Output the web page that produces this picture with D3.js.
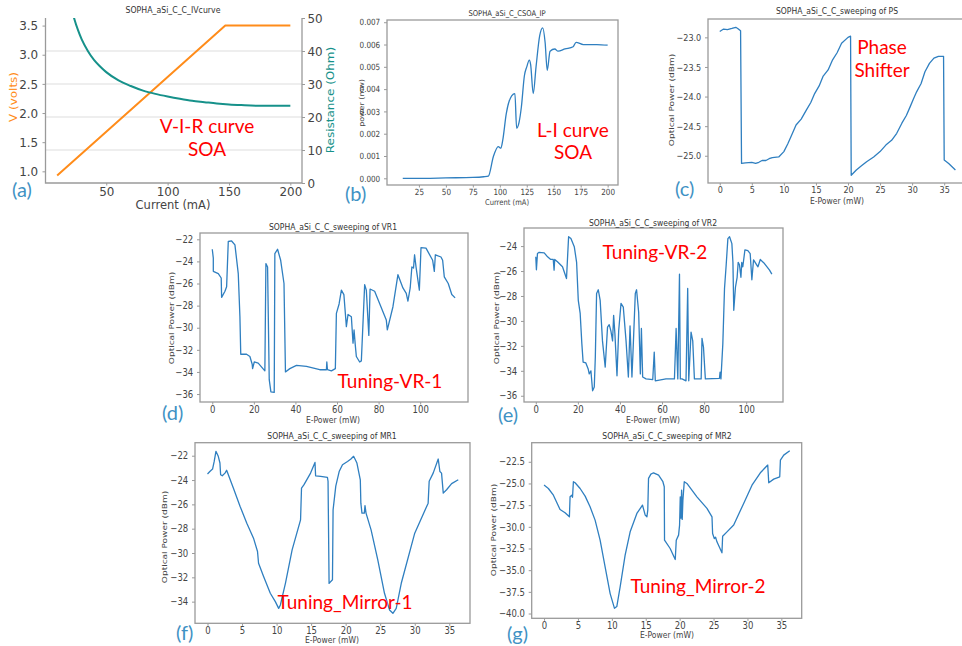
<!DOCTYPE html>
<html>
<head>
<meta charset="utf-8">
<script src="https://cdn.jsdelivr.net/npm/d3@7"></script>
<style>
body { margin: 0; background: #fff; }
svg { display: block; font-family: "DejaVu Sans", sans-serif; }
.note { font-family: Lato, "Open Sans", sans-serif; fill: #ff0000; }
.tag { font-family: Lato, "Open Sans", sans-serif; fill: #3f92c4; }
</style>
</head>
<body>
<svg id="fig" width="962" height="646"></svg>
<script>
// ---- (a) V-I-R curve of the SOA
const ivCurrent = [10, 50, 100, 147, 200];
const ivVoltage = [0.93, 1.68, 2.62, 3.50, 3.50];
const resCurrent = [22, 24, 27, 30, 35, 40, 45, 50, 60, 70, 80, 90, 100, 110, 120, 130, 140, 150, 160, 175, 200];
const resOhm = [52.5, 49.7, 46.3, 43.5, 40.0, 37.3, 35.3, 33.6, 31.1, 29.4, 28.0, 27.0, 26.2, 25.5, 24.9, 24.5, 24.1, 23.8, 23.6, 23.4, 23.4];
const ivTicksX = [50, 100, 150, 200];
const ivTicksV = [1.0, 1.5, 2.0, 2.5, 3.0, 3.5];
const ivTicksR = [0, 10, 20, 30, 40, 50];

// ---- (b) L-I curve of the SOA
const liCurrent = [10, 30, 50, 75, 85, 89.4, 94, 98.6, 101, 102.7, 106, 111, 114, 115.6, 117.8, 120, 122.8, 125, 127.4, 128.6, 131, 133.6, 137, 139.8, 142, 144, 146.6, 151, 154, 160.5, 168, 170.7, 177.5, 190, 200];
const liPower = [0, 0, 0.00002, 0.00004, 0.00007, 0.0001, 0.00097, 0.00142, 0.00135, 0.0017, 0.0029, 0.0037, 0.0038, 0.00225, 0.0025, 0.0032, 0.0046, 0.005, 0.0053, 0.0051, 0.0038, 0.005, 0.0064, 0.00675, 0.0061, 0.00484, 0.0057, 0.0058, 0.0057, 0.0058, 0.0059, 0.0061, 0.006, 0.006, 0.00597];
const liTicksX = [25, 50, 75, 100, 125, 150, 175, 200];
const liTicksY = [0, 0.001, 0.002, 0.003, 0.004, 0.005, 0.006, 0.007];

// ---- (c) phase shifter sweep
const psPower = [0, 0.6, 1.2, 1.9, 2.5, 2.8, 3.25, 3.4, 4.0, 5.0, 5.6, 6.1, 6.6, 7.2, 7.7, 8.2, 9.2, 10.0, 10.6, 11.1, 11.9, 12.7, 13.5, 14.2, 14.8, 15.5, 16.1, 16.9, 17.6, 18.3, 19.0, 20.0, 20.4, 20.5, 21.3, 22.1, 22.9, 24.0, 25.0, 25.9, 26.8, 27.6, 28.4, 29.1, 29.7, 30.2, 30.7, 31.4, 32.0, 32.7, 33.4, 34.1, 34.9, 35.0, 35.7, 36.75];
const psOptical = [-22.90, -22.86, -22.87, -22.85, -22.83, -22.85, -22.89, -25.13, -25.12, -25.11, -25.13, -25.11, -25.08, -25.08, -25.05, -25.03, -25.02, -24.93, -24.80, -24.68, -24.48, -24.38, -24.23, -24.10, -23.95, -23.82, -23.66, -23.55, -23.38, -23.26, -23.10, -23.0, -22.98, -25.33, -25.24, -25.17, -25.10, -25.02, -24.93, -24.82, -24.74, -24.62, -24.45, -24.32, -24.17, -24.04, -23.92, -23.78, -23.58, -23.44, -23.35, -23.32, -23.32, -25.07, -25.13, -25.24];
const psTicksX = [0, 5, 10, 15, 20, 25, 30, 35];
const psTicksY = [-25, -24.5, -24, -23.5, -23];

// ---- (d) VR1 sweep
const vr1Power = [0, 0.5, 0.5, 2.9, 4.3, 4.5, 6.1, 6.9, 7.7, 9.3, 10.9, 12.5, 13.3, 13.7, 16.5, 18.1, 19.2, 19.4, 20.2, 22.1, 25.3, 25.8, 26.6, 27.4, 28.2, 29.8, 30.1, 31.4, 32.9, 34.5, 35.2, 37.3, 40.5, 45.3, 51.7, 54.9, 55.1, 55.4, 57.3, 59.2, 59.7, 61, 62.1, 63.3, 64.5, 65.3, 66.9, 67.7, 68.2, 68.8, 69.3, 70.9, 71.7, 73.3, 74.1, 75.3, 75.9, 78.1, 83.7, 84.2, 86.9, 89.3, 91.7, 93.3, 94.1, 95.2, 96, 96.8, 97.3, 98, 99.6, 100.4, 102.8, 106, 106.8, 107.3, 110, 110.8, 111.6, 113.5, 115.2, 116.8];
const vr1Optical = [-22.9, -23.7, -24.9, -25.1, -25.5, -27.25, -26.7, -26.3, -22.2, -22.15, -22.5, -25.1, -29, -32.4, -32.4, -32.6, -33.3, -33.7, -33.1, -33.2, -33.9, -24.2, -24.5, -34.7, -35.8, -35.85, -23.3, -22.9, -23.9, -26, -34, -33.7, -33.4, -33.5, -33.8, -33.8, -33.1, -33.8, -33.9, -33.7, -28.7, -27.85, -26.6, -27, -29.9, -28.8, -29, -31.4, -30.2, -31.6, -32.6, -33.1, -33, -26.1, -26.6, -30.7, -26.5, -26.7, -29.3, -30.2, -28.1, -25.2, -26.4, -26.9, -27.6, -26.4, -24.5, -24.6, -23.4, -24.5, -26.6, -22.75, -22.8, -23.9, -24.9, -23.4, -23.6, -23.9, -25.4, -26, -27, -27.3];
const vr1TicksX = [0, 20, 40, 60, 80, 100];
const vr1TicksY = [-36, -34, -32, -30, -28, -26, -24, -22];

// ---- (e) VR2 sweep
const vr2Power = [0, 0.3, 0.8, 1.6, 4, 5.6, 7.1, 8.3, 8.7, 9.0, 10.3, 12.7, 14.6, 15.6, 16.7, 18.3, 19.4, 20.2, 21.1, 21.9, 22.5, 23.8, 24.9, 25.4, 26.2, 27, 27.8, 28.3, 28.9, 29.7, 30.6, 31.7, 33, 34.1, 34.9, 35.7, 36.5, 37, 37.6, 38.6, 39.4, 40.5, 41.6, 42.9, 44, 44.8, 45.7, 46.3, 47.3, 47.9, 48.9, 49.7, 50.2, 50.8, 52.4, 55.6, 56.3, 56.8, 61.9, 65.9, 66.7, 67.5, 68.3, 68.7, 69.5, 71.4, 72.2, 72.7, 73.8, 74.6, 75.4, 78.6, 79, 79.7, 80.6, 87.3, 87.6, 88, 88.9, 89.7, 90.5, 91.3, 92.1, 93.2, 93.7, 94.1, 94.9, 95.7, 96.2, 96.8, 97.5, 97.9, 98.4, 99.4, 100.8, 101.9, 102.7, 103.5, 105.6, 106.7, 108.7, 111.1, 112.2];
const vr2Optical = [-24.86, -25.9, -24.6, -24.5, -24.54, -24.86, -25.07, -25.07, -25.93, -25.07, -25.26, -25.66, -26.6, -23.25, -23.4, -24.05, -25.3, -28.35, -29.4, -31.84, -33.3, -33.37, -33.85, -34.25, -34, -35.6, -35.3, -32.9, -27.8, -27.5, -28.35, -31.6, -33.7, -30.5, -30.3, -30.8, -31.6, -29.55, -31, -34.4, -30.8, -28.6, -28.9, -31.6, -34.5, -30.4, -34.5, -32.1, -27.8, -27.5, -29.3, -34.25, -30.6, -34.5, -34.65, -34.7, -32.5, -34.8, -34.65, -34.65, -30.6, -34.65, -26.25, -34.65, -34.65, -34.8, -27.4, -34.8, -30.9, -31.6, -34.65, -34.65, -31.4, -32.1, -34.65, -34.6, -34.1, -34.65, -31.84, -27.4, -25.5, -23.4, -23.25, -23.8, -25.3, -29.15, -27.3, -26.5, -25.3, -25.5, -26.5, -25.3, -25.66, -24.3, -24.37, -24.6, -26.7, -25.1, -25.66, -25.07, -25.4, -25.93, -26.25];
const vr2TicksX = [0, 20, 40, 60, 80, 100];
const vr2TicksY = [-36, -34, -32, -30, -28, -26, -24];

// ---- (f) MR1 sweep
const mr1Power = [0, 0.34, 0.73, 0.97, 1.22, 1.56, 1.8, 1.9, 2.14, 2.53, 2.77, 3.74, 4.72, 5.69, 6.66, 7.24, 7.39, 8.12, 9.09, 9.82, 10.3, 10.55, 11.28, 12.25, 13.47, 13.61, 13.95, 14.92, 15.56, 15.65, 16.38, 17.36, 17.45, 17.6, 18.09, 18.18, 18.57, 19.06, 19.54, 20.27, 20.76, 21.15, 21.35, 21.63, 22.12, 22.2, 22.36, 22.7, 22.8, 22.95, 23.68, 24.65, 25.62, 26.35, 26.84, 27.32, 28.05, 30, 31.94, 32.09, 32.67, 33.4, 33.64, 33.88, 34.13, 34.61, 35.34, 36.3];
const mr1Optical = [-23.5, -23.3, -23.1, -22.47, -21.64, -22.05, -22.6, -23.56, -23.65, -23.43, -23.2, -24.66, -26.17, -27.55, -28.78, -29.88, -30.84, -31.94, -33.31, -34, -34.55, -34.27, -32.49, -29.74, -27.27, -24.66, -24.4, -23.43, -22.55, -23.65, -23.7, -23.78, -24.1, -32.5, -32.2, -26.45, -24.5, -23.3, -22.74, -22.47, -22.27, -22.05, -22.27, -22.6, -23.98, -25.9, -26.72, -26.72, -26.1, -26.72, -28.1, -30.57, -33.31, -34.68, -34.96, -34.55, -32.49, -28.37, -25.9, -24.1, -23.43, -22.27, -23.3, -23.43, -25.08, -24.8, -24.3, -23.98];
const mr1TicksX = [0, 5, 10, 15, 20, 25, 30, 35];
const mr1TicksY = [-34, -32, -30, -28, -26, -24, -22];

// ---- (g) MR2 sweep
const mr2Power = [0, 0.64, 1.38, 2.36, 3.1, 3.74, 3.84, 4.09, 4.2, 4.33, 4.58, 5.32, 6.06, 6.79, 7.53, 8.27, 9.0, 9.75, 10.39, 10.73, 11.23, 11.96, 12.7, 13.69, 14.52, 14.92, 15.17, 15.3, 15.41, 15.76, 16.15, 16.89, 17.53, 17.73, 17.77, 18.6, 19.35, 19.5, 19.84, 19.99, 20.09, 20.19, 20.29, 20.38, 20.48, 20.68, 21.07, 22.55, 24.03, 24.77, 24.86, 25.11, 25.3, 25.5, 26.24, 26.34, 26.98, 27.97, 29.44, 30.67, 31.9, 32.99, 33.14, 33.87, 34.76, 34.86, 35.35, 36.24];
const mr2Optical = [-25.19, -25.58, -26.35, -28, -28.38, -28.85, -26.54, -26.35, -26.6, -24.8, -24.92, -25.58, -26.46, -27.69, -29.23, -31.54, -34.6, -37.7, -39.4, -39.2, -36.9, -33.27, -30.58, -28.46, -27.5, -28.65, -28.85, -28.08, -24.42, -23.92, -23.77, -24.04, -24.8, -25.38, -31.54, -32.5, -33.77, -31.54, -30.96, -29.81, -26.54, -29, -25.77, -29.15, -26.92, -24.8, -25, -26.54, -27.88, -28.85, -30.77, -31.35, -31.2, -31.73, -33, -31.08, -30.58, -29.8, -27.3, -25.2, -23.77, -22.88, -24.92, -24.5, -24.23, -22.3, -21.73, -21.23];
const mr2TicksX = [0, 5, 10, 15, 20, 25, 30, 35];
const mr2TicksY = [-40, -37.5, -35, -32.5, -30, -27.5, -25, -22.5];

const BLUE = "#2f7fc0", ORANGE = "#ff8c1a", TEAL = "#16918a";
const svg = d3.select("#fig");
let clipCount = 0;

function addText(g, x, y, str, o) {
    let tr = `translate(${x},${y})`;
    if (o.sx) tr += ` scale(${o.sx},1)`;
    if (o.rot) tr += " rotate(-90)";
    return g.append("text").attr("transform", tr)
        .attr("text-anchor", o.anchor || "middle")
        .attr("font-size", o.size)
        .attr("fill", o.fill || "#333")
        .attr("class", o.cls || null)
        .attr("dy", o.dy || null)
        .text(str);
}

function drawPanel(p) {
    const [l, t, r, b] = p.box;
    const g = svg.append("g");
    const x = d3.scaleLinear().domain(p.xDomain).range([l, r]);
    const y = d3.scaleLinear().domain(p.yDomain).range([b, t]);
    const yR = p.yRDomain ? d3.scaleLinear().domain(p.yRDomain).range([b, t]) : null;
    const sx = p.sx;

    if (p.gridR) {
        g.append("g").selectAll("line").data(p.gridR).join("line")
            .attr("x1", l).attr("x2", r).attr("y1", d => yR(d)).attr("y2", d => yR(d))
            .attr("stroke", "#dddddd").attr("stroke-width", 1.2);
    }

    const cid = "clip" + (clipCount++);
    svg.append("clipPath").attr("id", cid).append("rect")
        .attr("x", l).attr("y", t).attr("width", r - l).attr("height", b - t);

    p.series.forEach(s => {
        const ys = s.right ? yR : y;
        const line = d3.line().x(d => x(d[0])).y(d => ys(d[1])).curve(s.curve || d3.curveLinear);
        g.append("path").datum(d3.zip(s.x, s.y))
            .attr("clip-path", `url(#${cid})`)
            .attr("fill", "none").attr("stroke", s.color)
            .attr("stroke-width", s.width).attr("stroke-linejoin", "round")
            .attr("d", line);
    });

    // frame
    const spine = "#9a9a9a";
    if (p.openTop) {
        g.append("path").attr("d", `M${l},${t}V${b}H${r}V${t}`)
            .attr("fill", "none").attr("stroke", spine).attr("stroke-width", 1.3);
    } else {
        g.append("rect").attr("x", l).attr("y", t).attr("width", r - l).attr("height", b - t)
            .attr("fill", "none").attr("stroke", spine).attr("stroke-width", 1.3);
    }

    const styleAxis = a => {
        a.select(".domain").remove();
        a.selectAll(".tick line").attr("stroke", spine);
        a.selectAll("text").attr("font-size", p.fs).attr("fill", "#444")
            .attr("font-family", "DejaVu Sans, sans-serif")
            .attr("transform", `scale(${sx},1)`);
    };
    g.append("g").attr("transform", `translate(0,${b})`)
        .call(d3.axisBottom(x).tickValues(p.xTicks).tickSize(2.5).tickPadding(1).tickFormat(p.xFmt))
        .call(styleAxis);
    g.append("g").attr("transform", `translate(${l},0)`)
        .call(d3.axisLeft(y).tickValues(p.yTicks).tickSize(3).tickPadding(5).tickFormat(p.yFmt))
        .call(styleAxis);
    if (yR) {
        g.append("g").attr("transform", `translate(${r},0)`)
            .call(d3.axisRight(yR).tickValues(p.yRTicks).tickSize(3).tickPadding(3).tickFormat(p.yRFmt))
            .call(styleAxis);
    }

    addText(g, p.title[0], p.title[1], p.title[2], {size: p.tfs, sx: sx});
    addText(g, p.xlabel[0], p.xlabel[1], p.xlabel[2], {size: p.lfs, sx: sx, fill: "#444"});
    addText(g, p.ylabel[0], p.ylabel[1], p.ylabel[2], {size: p.yfs || p.lfs, sx: sx, rot: true, dy: "0.35em", fill: p.ylabel[3] || "#444"});
    if (p.ylabelR) addText(g, p.ylabelR[0], p.ylabelR[1], p.ylabelR[2], {size: p.yfs, sx: sx, rot: true, dy: "0.35em", fill: p.ylabelR[3]});
    addText(g, p.tag[0], p.tag[1], p.tag[2], {size: 20, anchor: "start", cls: "tag"});
    p.notes.forEach(n => addText(g, n[0], n[1], n[2], {size: 19, cls: "note", fill: "#ff0000"}));
}

const f1 = d3.format(".1f"), f3 = d3.format(".3f"), fd = d3.format("d");

drawPanel({
    box: [45.5, 18, 302, 183], xDomain: [0.5, 209.5], yDomain: [0.80, 3.63], yRDomain: [0, 50],
    xTicks: ivTicksX, yTicks: ivTicksV, yRTicks: ivTicksR, xFmt: fd, yFmt: f1, yRFmt: fd,
    gridR: ivTicksR.slice(1, 5), openTop: true,
    series: [
        {x: ivCurrent, y: ivVoltage, color: ORANGE, width: 2},
        {x: resCurrent, y: resOhm, color: TEAL, width: 2, right: true, curve: d3.curveMonotoneX}
    ],
    fs: 13, sx: 0.92, tfs: 8.5, lfs: 12.5, yfs: 12,
    title: [173, 13, "SOPHA_aSi_C_C_IVcurve"],
    xlabel: [173, 209, "Current (mA)"],
    ylabel: [13, 97, "V (volts)", ORANGE],
    ylabelR: [330, 100, "Resistance (Ohm)", TEAL],
    tag: [12, 197, "(a)"],
    notes: [[207, 133, "V-I-R curve"], [207, 156, "SOA"]]
});

drawPanel({
    box: [387, 20, 618, 185], xDomain: [-4.6, 209.6], yDomain: [-0.0003, 0.0071],
    xTicks: liTicksX, yTicks: liTicksY, xFmt: fd, yFmt: f3,
    series: [{x: liCurrent, y: liPower, color: BLUE, width: 1.3, curve: d3.curveMonotoneX}],
    fs: 8.5, sx: 0.85, tfs: 8, lfs: 8,
    title: [507, 16, "SOPHA_aSi_C_CSOA_IP"],
    xlabel: [507, 205, "Current (mA)"],
    ylabel: [362, 103, "power (mw)"],
    tag: [345, 201, "(b)"],
    notes: [[573, 137, "L-I curve"], [573, 159, "SOA"]]
});

drawPanel({
    box: [708, 19, 966, 183], xDomain: [-1.83, 38.4], yDomain: [-25.46, -22.69],
    xTicks: psTicksX, yTicks: psTicksY, xFmt: fd, yFmt: f1,
    series: [{x: psPower, y: psOptical, color: BLUE, width: 1.3}],
    fs: 9.5, sx: 0.85, tfs: 9, lfs: 9,
    title: [837, 14, "SOPHA_aSi_C_C_sweeping of PS"],
    xlabel: [837, 204, "E-Power (mW)"],
    ylabel: [671, 100, "Optical Power (dBm)"],
    tag: [675, 196, "(c)"],
    notes: [[882, 54, "Phase"], [882, 77, "Shifter"]]
});

drawPanel({
    box: [200, 233, 468, 402], xDomain: [-5.9, 123], yDomain: [-36.72, -21.43],
    xTicks: vr1TicksX, yTicks: vr1TicksY, xFmt: fd, yFmt: fd,
    series: [{x: vr1Power, y: vr1Optical, color: BLUE, width: 1.3}],
    fs: 10, sx: 0.85, tfs: 9, lfs: 9,
    title: [333, 230, "SOPHA_aSi_C_C_sweeping of VR1"],
    xlabel: [333, 423, "E-Power (mW)"],
    ylabel: [171, 318, "Optical Power (dBm)"],
    tag: [162, 420, "(d)"],
    notes: [[390, 388, "Tuning-VR-1"]]
});

drawPanel({
    box: [524, 228, 783, 402], xDomain: [-5.6, 117.5], yDomain: [-36.5, -22.55],
    xTicks: vr2TicksX, yTicks: vr2TicksY, xFmt: fd, yFmt: fd,
    series: [{x: vr2Power, y: vr2Optical, color: BLUE, width: 1.3}],
    fs: 10, sx: 0.85, tfs: 9, lfs: 9,
    title: [653, 226, "SOPHA_aSi_C_C_sweeping of VR2"],
    xlabel: [653, 423, "E-Power (mW)"],
    ylabel: [496, 318, "Optical Power (dBm)"],
    tag: [498, 422, "(e)"],
    notes: [[655, 259, "Tuning-VR-2"]]
});

drawPanel({
    box: [195, 442.7, 470, 623.3], xDomain: [-1.81, 38.0], yDomain: [-35.78, -20.93],
    xTicks: mr1TicksX, yTicks: mr1TicksY, xFmt: fd, yFmt: fd,
    series: [{x: mr1Power, y: mr1Optical, color: BLUE, width: 1.3}],
    fs: 10, sx: 0.85, tfs: 9, lfs: 9,
    title: [332, 439, "SOPHA_aSi_C_C_sweeping of MR1"],
    xlabel: [332, 643, "E-Power (mW)"],
    ylabel: [164, 537, "Optical Power (dBm)"],
    tag: [176, 640, "(f)"],
    notes: [[345, 609, "Tuning_Mirror-1"]]
});

drawPanel({
    box: [531.7, 442.7, 801.7, 618.3], xDomain: [-1.82, 38.0], yDomain: [-40.55, -20.3],
    xTicks: mr2TicksX, yTicks: mr2TicksY, xFmt: fd, yFmt: f1,
    series: [{x: mr2Power, y: mr2Optical, color: BLUE, width: 1.3}],
    fs: 10, sx: 0.85, tfs: 9, lfs: 9,
    title: [667, 439, "SOPHA_aSi_C_C_sweeping of MR2"],
    xlabel: [667, 638, "E-Power (mW)"],
    ylabel: [493, 530, "Optical Power (dBm)"],
    tag: [507, 641, "(g)"],
    notes: [[698, 593, "Tuning_Mirror-2"]]
});
</script>
</body>
</html>
